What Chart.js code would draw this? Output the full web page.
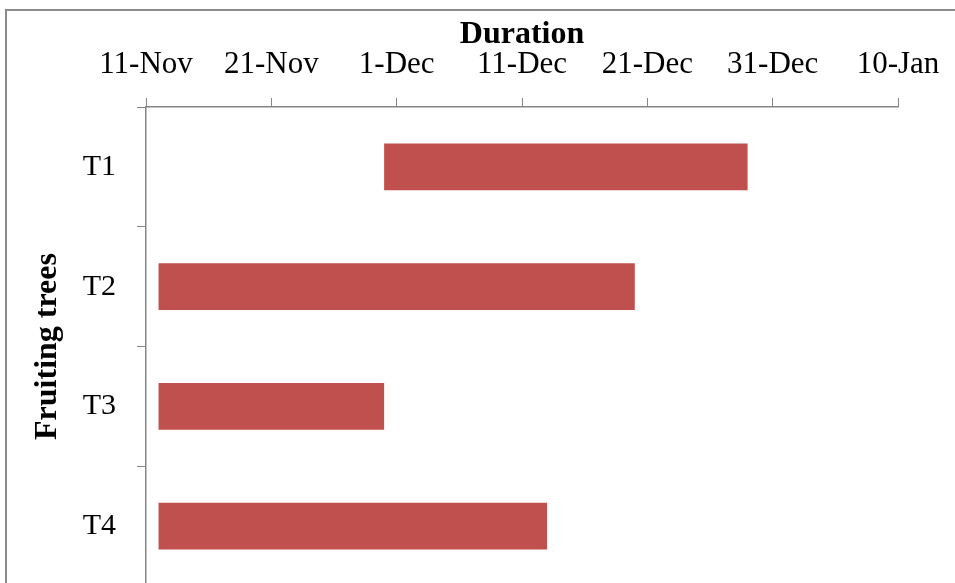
<!DOCTYPE html>
<html>
<head>
<meta charset="utf-8">
<title>Fruiting trees duration</title>
<script src="https://cdn.jsdelivr.net/npm/chart.js@4.4.1/dist/chart.umd.min.js"></script>
<style>
  html, body { margin: 0; padding: 0; background: #fff; overflow: hidden; }
  canvas { display: block; }
</style>
</head>
<body>
<canvas id="myChart" width="955" height="600"></canvas>
<script>
// Periodo de fructificación de cada árbol
var arboles = ['T1', 'T2', 'T3', 'T4'];
var fechasInicio = ['2019-11-30', '2019-11-12', '2019-11-12', '2019-11-12'];
var fechasFin = ['2019-12-29', '2019-12-20', '2019-11-30', '2019-12-13'];
var etiquetasEje = ['11-Nov', '21-Nov', '1-Dec', '11-Dec', '21-Dec', '31-Dec', '10-Jan'];

// Días contados desde el 11-Nov (primer tick del eje)
var origen = Date.parse('2019-11-11');
function dia(fecha) {
    return (Date.parse(fecha) - origen) / 86400000;
}

var rangos = fechasInicio.map(function(inicio, i) {
    return [dia(inicio), dia(fechasFin[i])];
});

var gris = '#868686';
var fuente = 'Liberation Serif';

// Marco exterior del gráfico
var marco = {
    id: 'marco',
    beforeDraw: function(chart) {
        var c = chart.ctx;
        c.save();
        c.strokeStyle = '#8a8a8a';
        c.lineWidth = 2;
        c.strokeRect(6, 10, chart.width + 20, chart.height + 20);
        c.restore();
    }
};

var ctx = document.getElementById('myChart').getContext('2d');
var myChart = new Chart(ctx, {
    type: 'bar',
    data: {
        labels: arboles,
        datasets: [{
            label: 'Duration',
            data: rangos,
            backgroundColor: '#C0504D',
            borderWidth: 0,
            borderSkipped: false,
            categoryPercentage: 1,
            barPercentage: 0.39
        }]
    },
    plugins: [marco],
    options: {
        indexAxis: 'y',
        responsive: false,
        animation: false,
        devicePixelRatio: 1,
        layout: { padding: { top: 0, right: 57, bottom: 14, left: 0 } },
        plugins: {
            legend: { display: false },
            tooltip: { enabled: false }
        },
        scales: {
            x: {
                position: 'top',
                type: 'linear',
                min: 0,
                max: 60,
                afterFit: function(scale) { scale.height = 107; },
                ticks: {
                    stepSize: 10,
                    padding: 15,
                    color: '#000',
                    font: { family: fuente, size: 31 },
                    callback: function(value) {
                        return etiquetasEje[value / 10];
                    }
                },
                grid: {
                    drawOnChartArea: false,
                    tickLength: 9,
                    color: gris,
                    lineWidth: 1
                },
                border: { color: gris, width: 1.5 },
                title: {
                    display: true,
                    text: 'Duration',
                    color: '#000',
                    padding: { top: 16, bottom: 0 },
                    font: { family: fuente, size: 32, weight: 'bold' }
                }
            },
            y: {
                afterFit: function(scale) {
                    scale.width = 146;
                    scale.paddingTop = 0;
                    scale.paddingBottom = 0;
                },
                ticks: {
                    padding: 21,
                    color: '#000',
                    font: { family: fuente, size: 30 }
                },
                grid: {
                    drawOnChartArea: false,
                    tickLength: 9,
                    color: gris,
                    lineWidth: 1
                },
                border: { color: gris, width: 1.5 },
                title: {
                    display: true,
                    text: 'Fruiting trees',
                    color: '#000',
                    padding: { top: 29, bottom: 0 },
                    font: { family: fuente, size: 32, weight: 'bold' }
                }
            }
        }
    }
});
</script>
</body>
</html>
